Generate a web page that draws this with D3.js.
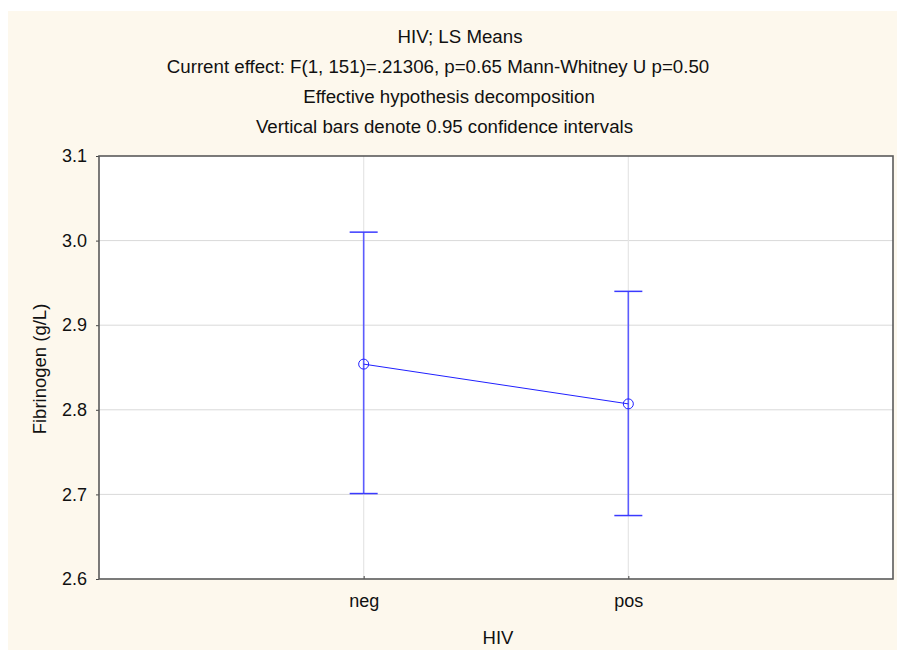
<!DOCTYPE html>
<html>
<head>
<meta charset="utf-8">
<script src="https://cdn.jsdelivr.net/npm/d3@7"></script>
<style>
  body { margin: 0; background: #fff; }
  text { font-family: "Liberation Sans", Arial, sans-serif; fill: #111; }
</style>
</head>
<body>
<svg id="chart"></svg>
<script>
// 数据
const groups = ["neg", "pos"];
const means = [2.854, 2.807];
const lower = [2.701, 2.675];
const upper = [3.010, 2.940];
const yTicks = [2.6, 2.7, 2.8, 2.9, 3.0, 3.1];
const titles = [
    "HIV; LS Means",
    "Current effect: F(1, 151)=.21306, p=0.65 Mann-Whitney U p=0.50",
    "Effective hypothesis decomposition",
    "Vertical bars denote 0.95 confidence intervals"
];
const titleX = [460, 438, 449, 444.5];  // 每行标题的中心位置

const width = 903, height = 657;
const plot = { left: 99, top: 156, right: 893, bottom: 579 };

const svg = d3.select("#chart")
    .attr("width", width)
    .attr("height", height);

// 背景
svg.append("rect")
    .attr("x", 8).attr("y", 11)
    .attr("width", 889).attr("height", 639)
    .attr("fill", "#fdf8ed");

svg.append("rect")
    .attr("x", plot.left).attr("y", plot.top)
    .attr("width", plot.right - plot.left).attr("height", plot.bottom - plot.top)
    .attr("fill", "#fff");

// 比例尺
const x = d3.scalePoint()
    .domain(groups)
    .range([plot.left, plot.right])
    .padding(1);

const y = d3.scaleLinear()
    .domain([2.6, 3.1])
    .range([plot.bottom, plot.top]);

// 网格线
svg.append("g")
    .selectAll("line")
    .data(yTicks.slice(1, -1))
    .enter().append("line")
    .attr("x1", plot.left).attr("x2", plot.right)
    .attr("y1", d => y(d)).attr("y2", d => y(d))
    .attr("stroke", "#d9d9d9").attr("stroke-width", 1);

svg.append("g")
    .selectAll("line")
    .data(groups)
    .enter().append("line")
    .attr("x1", d => x(d)).attr("x2", d => x(d))
    .attr("y1", plot.top).attr("y2", plot.bottom)
    .attr("stroke", "#e6e6e6").attr("stroke-width", 1.2);

// 坐标轴
const yAxis = svg.append("g")
    .attr("transform", `translate(${plot.left},0)`)
    .call(d3.axisLeft(y).tickValues(yTicks).tickFormat(d3.format(".1f")).tickSize(3).tickPadding(9));
yAxis.select(".domain").remove();
yAxis.selectAll("line").attr("stroke", "#444");
yAxis.selectAll("text").attr("font-size", 18).attr("fill", "#111")
    .style("font-family", "Liberation Sans, Arial, sans-serif");

const xAxis = svg.append("g")
    .attr("transform", `translate(0,${plot.bottom})`)
    .call(d3.axisBottom(x).tickSize(-3).tickPadding(15));
xAxis.select(".domain").remove();
xAxis.selectAll("line").attr("stroke", "#444");
xAxis.selectAll("text").attr("font-size", 18).attr("fill", "#111")
    .style("font-family", "Liberation Sans, Arial, sans-serif");

// 边框
svg.append("rect")
    .attr("x", plot.left).attr("y", plot.top)
    .attr("width", plot.right - plot.left).attr("height", plot.bottom - plot.top)
    .attr("fill", "none")
    .attr("stroke", "#5a5a5a").attr("stroke-width", 1.6);

// 误差线
const bars = svg.append("g");
groups.forEach((g, i) => {
    bars.append("line")
        .attr("x1", x(g)).attr("x2", x(g))
        .attr("y1", y(lower[i])).attr("y2", y(upper[i]))
        .attr("stroke", "#5c5cff").attr("stroke-width", 1.6);
    [lower[i], upper[i]].forEach(v => {
        bars.append("line")
            .attr("x1", x(g) - 14).attr("x2", x(g) + 14)
            .attr("y1", y(v)).attr("y2", y(v))
            .attr("stroke", "#3a3aff").attr("stroke-width", 1.5);
    });
});

// 均值连线和点
const line = d3.line()
    .x((d, i) => x(groups[i]))
    .y(d => y(d));

svg.append("path")
    .datum(means)
    .attr("d", line)
    .attr("fill", "none")
    .attr("stroke", "#2020ff").attr("stroke-width", 1);

svg.selectAll("circle.mean")
    .data(means)
    .enter().append("circle")
    .attr("class", "mean")
    .attr("cx", (d, i) => x(groups[i]))
    .attr("cy", d => y(d))
    .attr("r", 5)
    .attr("fill", "none")
    .attr("stroke", "#2020ff").attr("stroke-width", 1);

// 标题
svg.append("g")
    .selectAll("text")
    .data(titles)
    .enter().append("text")
    .attr("x", (d, i) => titleX[i])
    .attr("y", (d, i) => 43 + i * 30)
    .attr("text-anchor", "middle")
    .attr("font-size", 18.7)
    .text(d => d);

// 轴标题
svg.append("text")
    .attr("x", 498).attr("y", 644)
    .attr("text-anchor", "middle")
    .attr("font-size", 18.5)
    .text("HIV");

svg.append("text")
    .attr("transform", "translate(46,369) rotate(-90)")
    .attr("text-anchor", "middle")
    .attr("font-size", 18.5)
    .text("Fibrinogen (g/L)");
</script>
</body>
</html>
